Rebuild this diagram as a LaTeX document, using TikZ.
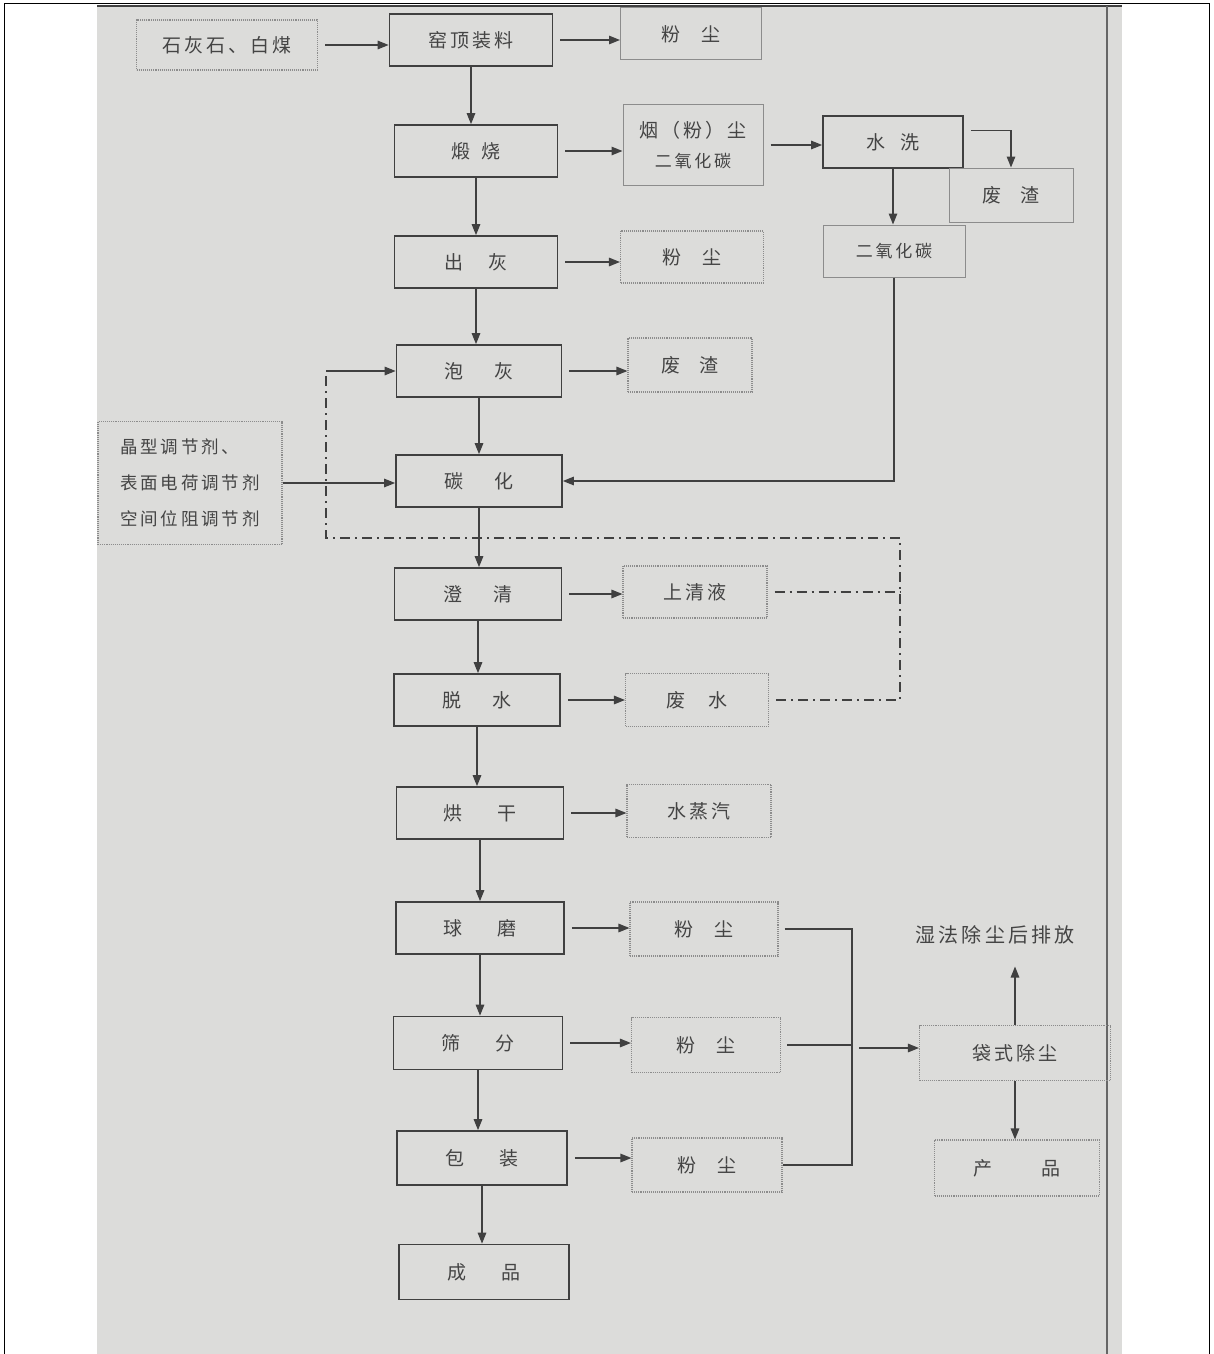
\documentclass[tikz,border=0pt]{standalone}
\usepackage{fontspec}
\setmainfont{Noto Sans CJK SC}[LetterSpace=16]
\usetikzlibrary{arrows.meta,calc}
\definecolor{paper}{HTML}{DCDCDA}
\definecolor{ink}{HTML}{404040}
\definecolor{softc}{HTML}{8C8C8C}
\definecolor{txt}{HTML}{444444}
\begin{document}
\begin{tikzpicture}[x=1pt,y=-1pt,
  proc/.style={draw=ink,line width=1.7pt,minimum width=#1,minimum height=52pt,inner sep=0pt,text=txt,font=\fontsize{19}{22}\selectfont},
  softbox/.style={draw=softc,line width=1pt,minimum width=#1,minimum height=52pt,inner sep=0pt,text=txt,font=\fontsize{19}{22}\selectfont},
  dotbox/.style={draw=softc,line width=1.1pt,densely dotted,minimum width=#1,minimum height=52pt,inner sep=0pt,text=txt,font=\fontsize{19}{22}\selectfont},
  plaintext/.style={inner sep=0pt,text=txt,font=\fontsize{20}{24}\selectfont},
  arr/.style={draw=ink,line width=1.4pt,-{Triangle[length=11pt,width=8.5pt]}},
  harr/.style={arr,shorten <=7pt},
  joinline/.style={draw=ink,line width=2pt},
  dashdot/.style={draw=ink,line width=1.6pt,dash pattern=on 10pt off 5pt on 2pt off 5pt}
]
\useasboundingbox (0,0) rectangle (1213,1354);
% background
\fill[white] (0,0) rectangle (1213,1354);
\fill[paper] (97,5) rectangle (1122,1354);
\draw[black,line width=0.8pt] (4,1354) -- (4,3) -- (1209,3) -- (1209,1354);
\draw[ink,line width=1.6pt] (97,6) -- (1122,6);
\draw[ink!80,line width=1.4pt] (1107,6) -- (1107,1354);

% nodes
\node[dotbox=181,minimum height=50pt] (shi) at (227,45) {石灰石、白煤};
\node[proc=163] (yao) at (471,40) {窑顶装料};
\node[softbox=141] (fc1) at (691,34) {粉\hspace{1.1em}尘};
\node[proc=163] (ds) at (476,151) {煅\hspace{0.6em}烧};
\node[softbox=140,minimum height=81pt,align=center] (yc) at (693,145) {烟（粉）尘\\[8pt]{\fontsize{17}{20}\selectfont 二氧化碳}};
\node[proc=140] (sx) at (893,142) {水\hspace{0.8em}洗};
\node[softbox=124,minimum height=54pt] (fz1) at (1011,195) {废\hspace{1em}渣};
\node[softbox=142] (co2) at (894,251) {\fontsize{17}{20}\selectfont 二氧化碳};
\node[proc=163] (ch) at (476,262) {出\hspace{1.3em}灰};
\node[dotbox=143] (fc2) at (692,257) {粉\hspace{1.1em}尘};
\node[proc=165] (ph) at (479,371) {泡\hspace{1.6em}灰};
\node[dotbox=124,minimum height=54pt] (fz2) at (690,365) {废\hspace{1em}渣};
\node[dotbox=184,minimum height=123pt,align=left,font=\fontsize{17.5}{36}\selectfont] (tj) at (190,483) {晶型调节剂、\\表面电荷调节剂\\空间位阻调节剂};
\node[proc=166] (th) at (479,481) {碳\hspace{1.6em}化};
\node[proc=167] (cq) at (478,594) {澄\hspace{1.6em}清};
\node[dotbox=144] (sq) at (695,592) {上清液};
\node[proc=166] (ts) at (477,700) {脱\hspace{1.6em}水};
\node[dotbox=143,minimum height=53pt] (fs) at (697,700) {废\hspace{1.2em}水};
\node[proc=167] (hg) at (480,813) {烘\hspace{1.8em}干};
\node[dotbox=144,minimum height=53pt] (zq) at (699,811) {水蒸汽};
\node[proc=168] (qm) at (480,928) {球\hspace{1.8em}磨};
\node[dotbox=148,minimum height=54pt] (fc3) at (704,929) {粉\hspace{1.1em}尘};
\node[proc=169,minimum height=53pt] (sf) at (478,1043) {筛\hspace{1.8em}分};
\node[dotbox=149,minimum height=55pt] (fc4) at (706,1045) {粉\hspace{1.1em}尘};
\node[proc=170,minimum height=54pt] (bz) at (482,1158) {包\hspace{1.8em}装};
\node[dotbox=150,minimum height=54pt] (fc5) at (707,1165) {粉\hspace{1.1em}尘};
\node[proc=170,minimum height=55pt] (cp) at (484,1272) {成\hspace{1.8em}品};
\node[dotbox=191,minimum height=55pt] (dc) at (1015,1053) {袋式除尘};
\node[dotbox=165,minimum height=56pt] (chp) at (1017,1168) {产\hspace{2.6em}品};
\node[plaintext] (pf) at (995,935) {湿法除尘后排放};

% horizontal outputs
\draw[harr] (shi.east) -- (shi.east -| yao.west);
\draw[harr] (yao.east) -- (yao.east -| fc1.west);
\draw[harr] (ds.east) -- (ds.east -| yc.west);
\draw[harr] (yc.east) -- (yc.east -| sx.west);
\draw[harr] (ch.east) -- (ch.east -| fc2.west);
\draw[harr] (ph.east) -- (ph.east -| fz2.west);
\draw[arr] (tj.east) -- (tj.east -| th.west);
\draw[harr] (cq.east) -- (cq.east -| sq.west);
\draw[harr] (ts.east) -- (ts.east -| fs.west);
\draw[harr] (hg.east) -- (hg.east -| zq.west);
\draw[harr] (qm.east) -- (qm.east -| fc3.west);
\draw[harr] (sf.east) -- (sf.east -| fc4.west);
\draw[harr] (bz.east) -- (bz.east -| fc5.west);

% main column
\draw[arr] (yao.south) -- (yao.south |- ds.north);
\draw[arr] (ds.south) -- (ds.south |- ch.north);
\draw[arr] (ch.south) -- (ch.south |- ph.north);
\draw[arr] (ph.south) -- (ph.south |- th.north);
\draw[arr] (th.south) -- (th.south |- cq.north);
\draw[arr] (cq.south) -- (cq.south |- ts.north);
\draw[arr] (ts.south) -- (ts.south |- hg.north);
\draw[arr] (hg.south) -- (hg.south |- qm.north);
\draw[arr] (qm.south) -- (qm.south |- sf.north);
\draw[arr] (sf.south) -- (sf.south |- bz.north);
\draw[arr] (bz.south) -- (bz.south |- cp.north);

% washing branch
\draw[arr,shorten <=7pt] ($(sx.north east)!0.29!(sx.south east)$) -| (fz1.north);
\draw[arr] (sx.south) -- (sx.south |- co2.north);
\draw[arr] (co2.south) |- (th.east);

% recycle loop
\coordinate (rt) at (900,538);
\coordinate (lt) at (326,538);
\draw[dashdot,shorten <=7pt] (sq.east) -- (sq.east -| rt);
\draw[dashdot,shorten <=7pt] (fs.east) -| (rt) -- (lt) -- (lt |- ph.west);
\draw[arr] (lt |- ph.west) -- (ph.west);

% dust collection
\coordinate (bus) at (852,1048);
\draw[joinline,shorten <=6pt] (fc3.east) -- (fc3.east -| bus) -- (bus |- fc5.east) -- (fc5.east);
\draw[joinline,shorten <=6pt] (fc4.east) -- (fc4.east -| bus);
\draw[harr] (bus) -- (bus -| dc.west);
\draw[arr,shorten >=22pt] (dc.north) -- (dc.north |- pf.south);
\draw[arr] (dc.south) -- (dc.south |- chp.north);
\end{tikzpicture}
\end{document}
